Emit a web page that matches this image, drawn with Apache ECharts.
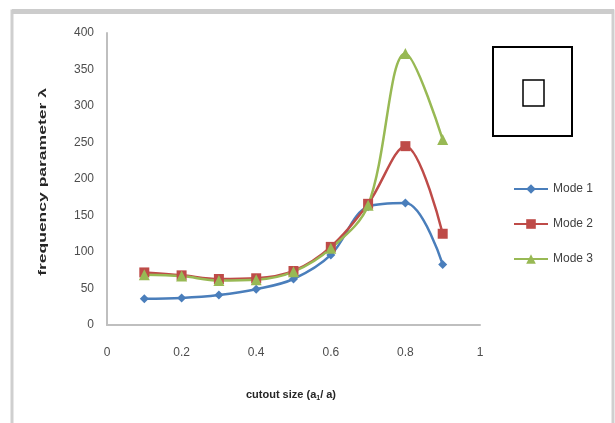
<!DOCTYPE html>
<html>
<head>
<meta charset="utf-8">
<script src="https://cdn.jsdelivr.net/npm/echarts@6/dist/echarts.min.js"></script>
<style>
  html, body { margin: 0; padding: 0; background: #fff; }
  #main { width: 615px; height: 423px; }
</style>
</head>
<body>
<div id="main"></div>
<script>
// cutout size (a1/a) values
var cutout = [0.1, 0.2, 0.3, 0.4, 0.5, 0.6, 0.7, 0.8, 0.9];
// frequency parameter for each mode
var mode1 = [36, 37, 41, 49, 63, 96, 162, 167, 83];
var mode2 = [72, 68, 63, 64, 74, 107, 166, 245, 125];
var mode3 = [69, 67, 61, 62, 73, 105, 164, 372, 254];

function pairs(vals) {
    return cutout.map(function (x, i) { return [x, vals[i]]; });
}

var myChart = echarts.init(document.getElementById('main'));

var labelColor = '#4d4d4d';

var option = {
    backgroundColor: '#fff',
    animation: false,
    grid: { left: 107, top: 33, right: 135, bottom: 98 },
    legend: {
        orient: 'vertical',
        left: 508,
        top: 178,
        itemWidth: 34,
        itemHeight: 12,
        itemGap: 23,
        textStyle: { color: '#404040', fontSize: 12, fontFamily: 'Liberation Sans' },
        data: ['Mode 1', 'Mode 2', 'Mode 3']
    },
    xAxis: {
        type: 'value',
        min: 0,
        max: 1,
        interval: 0.2,
        splitLine: { show: false },
        axisTick: { show: false },
        axisLine: { lineStyle: { color: '#bfbfbf', width: 2 } },
        axisLabel: { color: labelColor, fontSize: 12, margin: 22, fontFamily: 'Liberation Sans' }
    },
    yAxis: {
        type: 'value',
        min: 0,
        max: 400,
        interval: 50,
        splitLine: { show: false },
        axisTick: { show: false },
        axisLine: { show: true, lineStyle: { color: '#bfbfbf', width: 2 } },
        axisLabel: { color: labelColor, fontSize: 12, margin: 13, fontFamily: 'Liberation Sans' }
    },
    graphic: [
        // outer frame
        { type: 'rect', shape: { x: 12, y: 11, width: 601, height: 420 },
          style: { fill: 'none', stroke: '#cfcfcf', lineWidth: 3 } },
        { type: 'rect', shape: { x: 12, y: 9, width: 602, height: 5 },
          style: { fill: '#cccccc' } },
        // plate with cutout sketch
        { type: 'rect', shape: { x: 493, y: 47, width: 79, height: 89 },
          style: { fill: 'none', stroke: '#000', lineWidth: 2 } },
        { type: 'rect', shape: { x: 523, y: 80, width: 21, height: 26 },
          style: { fill: 'none', stroke: '#000', lineWidth: 1.5 } },
        // axis titles
        { type: 'text', x: 43, y: 182, rotation: Math.PI / 2, scaleX: 1.75,
          style: { text: 'frequency parameter λ', fill: '#262626', fontSize: 10, fontWeight: 'bold',
                   fontFamily: 'Liberation Sans', align: 'center', verticalAlign: 'middle' } },
        { type: 'text', x: 291, y: 395,
          style: { text: '{n|cutout size (a}{s|1}{n|/ a)}', align: 'center', verticalAlign: 'middle',
                   rich: {
                       n: { fill: '#262626', fontSize: 11, fontWeight: 'bold', fontFamily: 'Liberation Sans' },
                       s: { fill: '#262626', fontSize: 7, fontWeight: 'bold', fontFamily: 'Liberation Sans', padding: [6, 0, 0, 0] }
                   } } }
    ],
    series: [
        {
            name: 'Mode 1', type: 'line', smooth: 0.35,
            data: pairs(mode1),
            symbol: 'diamond', symbolSize: 9,
            itemStyle: { color: '#4a7ebb' },
            lineStyle: { width: 2.5, color: '#4a7ebb' }
        },
        {
            name: 'Mode 2', type: 'line', smooth: 0.35,
            data: pairs(mode2),
            symbol: 'rect', symbolSize: 10,
            itemStyle: { color: '#be4b48' },
            lineStyle: { width: 2.5, color: '#be4b48' }
        },
        {
            name: 'Mode 3', type: 'line', smooth: 0.35,
            data: pairs(mode3),
            symbol: 'triangle', symbolSize: 11,
            itemStyle: { color: '#98b954' },
            lineStyle: { width: 2.5, color: '#98b954' }
        }
    ]
};
myChart.setOption(option);
</script>
</body>
</html>
